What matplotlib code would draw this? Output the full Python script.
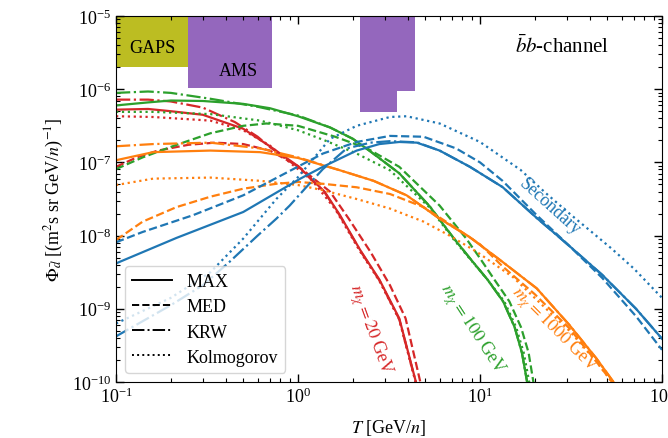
import matplotlib
matplotlib.use("Agg")
import matplotlib.pyplot as plt

plt.rcParams['font.family'] = ['Liberation Serif', 'DejaVu Serif']
plt.rcParams['mathtext.fontset'] = 'stix'

# ---- colours ----
c_red, c_green, c_orange, c_blue = '#d62728', '#2ca02c', '#ff7f0e', '#1f77b4'

# ---- experiment sensitivity regions ----
gaps_T = [0.1, 0.249]
gaps_low = 2.0e-6
ams_low_T = [0.249, 0.72]
ams_low_flux = 1.05e-6
ams_high_T = [2.19, 3.50, 4.40]
ams_high_flux = [4.9e-7, 9.5e-7, 9.5e-7]
flux_top = 1e-5

# ---- m_chi = 20 GeV ----
red_max_T = [0.1, 0.15, 0.2, 0.3, 0.5, 0.7, 1.0, 1.4, 1.7, 2.2, 2.8, 3.6, 4.5]
red_max = [5.25e-7, 5.37e-7, 5.0e-7, 4.47e-7, 2.88e-7, 1.66e-7, 8.9e-8, 3.98e-8, 1.9e-8, 6.3e-9, 2.5e-9, 7.4e-10, 8.9e-11]
red_med_T = [0.1, 0.13, 0.17, 0.25, 0.35, 0.5, 0.7, 1.0, 1.5, 1.9, 2.5, 3.2, 3.9, 4.75]
red_med = [8.7e-8, 1.17e-7, 1.45e-7, 1.74e-7, 1.86e-7, 1.78e-7, 1.45e-7, 8.9e-8, 3.98e-8, 1.7e-8, 6.0e-9, 2.1e-9, 7.4e-10, 8.9e-11]
red_krw_T = [0.1, 0.15, 0.2, 0.3, 0.45, 0.6, 0.7, 1.0, 1.4, 1.7, 2.2, 2.8, 3.6, 4.5]
red_krw = [7.2e-7, 7.2e-7, 6.8e-7, 5.6e-7, 3.55e-7, 2.24e-7, 1.62e-7, 8.7e-8, 3.9e-8, 1.86e-8, 6.2e-9, 2.45e-9, 7.2e-10, 8.7e-11]
red_kol_T = [0.1, 0.16, 0.33, 0.5, 0.7, 0.9, 1.2, 1.6, 2.2, 2.8, 3.6, 4.5]
red_kol = [4.27e-7, 4.17e-7, 3.72e-7, 2.75e-7, 1.7e-7, 1.0e-7, 5.6e-8, 2.3e-8, 6.0e-9, 2.4e-9, 7.1e-10, 8.5e-11]

# ---- m_chi = 100 GeV ----
green_max_T = [0.1, 0.15, 0.2, 0.3, 0.5, 0.7, 1.0, 1.5, 2.0, 2.5, 3.6, 5.3, 7.1, 8.8, 11, 13.4, 15.5, 17, 18.3]
green_max = [6.0e-7, 6.6e-7, 7.0e-7, 6.9e-7, 6.3e-7, 5.5e-7, 4.27e-7, 3.0e-7, 2.1e-7, 1.41e-7, 7.1e-8, 2.5e-8, 9.5e-9, 4.9e-9, 2.5e-9, 1.26e-9, 5.6e-10, 2.5e-10, 8.9e-11]
green_med_T = [0.1, 0.14, 0.21, 0.33, 0.5, 0.67, 1.0, 1.6, 2.4, 3.6, 6.0, 8.4, 10, 12, 14.5, 16.8, 18.5, 19.8]
green_med = [8.1e-8, 1.17e-7, 1.7e-7, 2.5e-7, 3.16e-7, 3.4e-7, 3.16e-7, 2.24e-7, 1.55e-7, 8.7e-8, 2.57e-8, 9.1e-9, 4.9e-9, 2.5e-9, 1.26e-9, 5.6e-10, 2.5e-10, 8.9e-11]
green_krw_T = [0.1, 0.15, 0.2, 0.33, 0.6, 1.0, 1.5, 2.0, 2.5, 3.6, 5.3, 7.1, 8.8, 11, 13.4, 15.5, 17, 18.3]
green_krw = [8.9e-7, 9.3e-7, 8.9e-7, 7.4e-7, 5.75e-7, 4.37e-7, 3.0e-7, 2.1e-7, 1.41e-7, 7.1e-8, 2.5e-8, 9.5e-9, 4.9e-9, 2.5e-9, 1.26e-9, 5.6e-10, 2.5e-10, 8.9e-11]
green_kol_T = [0.1, 0.16, 0.33, 0.62, 1.0, 1.4, 2.1, 3.2, 5.3, 7.1, 8.8, 11, 13.6, 15.8, 17.4, 18.8]
green_kol = [4.9e-7, 4.9e-7, 4.57e-7, 3.72e-7, 2.75e-7, 2.0e-7, 1.32e-7, 7.8e-8, 2.4e-8, 9.1e-9, 4.8e-9, 2.5e-9, 1.26e-9, 5.6e-10, 2.5e-10, 8.9e-11]

# ---- m_chi = 1000 GeV ----
orange_max_T = [0.1, 0.16, 0.33, 0.62, 1.0, 1.7, 2.6, 3.95, 6.0, 8.8, 13.3, 20.5, 31, 43.6, 56]
orange_max = [1.07e-7, 1.38e-7, 1.45e-7, 1.38e-7, 1.15e-7, 7.8e-8, 5.6e-8, 3.55e-8, 1.7e-8, 9.5e-9, 4.37e-9, 1.9e-9, 6.0e-10, 2.1e-10, 8.9e-11]
orange_med_T = [0.1, 0.14, 0.215, 0.33, 0.5, 0.76, 1.0, 1.37, 2.1, 3.2, 4.9, 7.4, 10, 13.3, 20, 31, 43.6, 55]
orange_med = [8.7e-9, 1.55e-8, 2.45e-8, 3.4e-8, 4.37e-8, 5.1e-8, 5.4e-8, 5.1e-8, 4.57e-8, 3.7e-8, 2.45e-8, 1.26e-8, 7.6e-9, 3.8e-9, 1.58e-9, 5.4e-10, 1.9e-10, 8.9e-11]
orange_krw_T = [0.1, 0.16, 0.33, 0.62, 1.0, 1.7, 2.6, 3.95, 6.0, 8.8, 13.3, 20.5, 31, 43.6, 56]
orange_krw = [1.66e-7, 1.78e-7, 1.86e-7, 1.55e-7, 1.17e-7, 7.8e-8, 5.6e-8, 3.55e-8, 1.7e-8, 9.5e-9, 4.37e-9, 1.9e-9, 6.0e-10, 2.1e-10, 8.9e-11]
orange_kol_T = [0.1, 0.16, 0.33, 0.62, 1.0, 1.37, 2.1, 3.2, 4.9, 6.8, 9.6, 15.2, 22, 31, 43.6, 55]
orange_kol = [4.9e-8, 6.0e-8, 6.2e-8, 5.6e-8, 4.9e-8, 4.17e-8, 3.16e-8, 2.34e-8, 1.55e-8, 1.0e-8, 6.0e-9, 2.7e-9, 1.12e-9, 5.0e-10, 1.9e-10, 8.9e-11]

# ---- secondary ----
blue_max_T = [0.1, 0.215, 0.5, 1.03, 1.37, 2.1, 2.8, 3.6, 4.5, 6.0, 8.8, 13.3, 20.5, 26, 31, 47, 72, 100]
blue_max = [4.17e-9, 9.3e-9, 2.1e-8, 6.0e-8, 8.7e-8, 1.45e-7, 1.78e-7, 1.9e-7, 1.86e-7, 1.45e-7, 8.7e-8, 4.6e-8, 1.74e-8, 1.05e-8, 7.2e-9, 2.9e-9, 1.0e-9, 3.9e-10]
blue_med_T = [0.1, 0.14, 0.265, 0.5, 1.03, 1.37, 2.1, 3.2, 4.9, 7.4, 10, 13.3, 20.5, 31, 47, 72, 100]
blue_med = [8.1e-9, 1.12e-8, 1.9e-8, 3.55e-8, 9.1e-8, 1.32e-7, 1.9e-7, 2.3e-7, 2.24e-7, 1.55e-7, 1.0e-7, 5.6e-8, 1.9e-8, 7.2e-9, 2.63e-9, 7.9e-10, 2.75e-10]
blue_krw_T = [0.1, 0.2, 0.3, 0.42, 0.6, 0.76, 0.9, 1.1, 1.37, 1.85, 2.5, 3.2, 4.5, 6.0, 8.8, 13.3, 20.5, 26, 31, 47, 72, 100]
blue_krw = [4.2e-10, 1.12e-9, 2.1e-9, 4.37e-9, 1.0e-8, 1.7e-8, 2.57e-8, 4.47e-8, 8.1e-8, 1.55e-7, 1.86e-7, 1.95e-7, 1.88e-7, 1.45e-7, 8.7e-8, 4.6e-8, 1.74e-8, 1.05e-8, 7.2e-9, 2.9e-9, 1.0e-9, 3.9e-10]
blue_kol_T = [0.1, 0.2, 0.33, 0.5, 0.76, 1.0, 1.5, 2.1, 3.2, 3.95, 6.0, 10, 16.7, 23, 31, 42, 53, 70, 100]
blue_kol = [6.3e-10, 1.41e-9, 3.16e-9, 9.1e-9, 3.16e-8, 6.3e-8, 2.1e-7, 3.16e-7, 4.17e-7, 4.27e-7, 3.4e-7, 1.9e-7, 7.9e-8, 3.8e-8, 2.0e-8, 1.07e-8, 6.6e-9, 3.55e-9, 1.41e-9]

legend_labels = ['MAX', 'MED', 'KRW', 'Kolmogorov']
styles = ['-', '--', '-.', ':']

fig = plt.figure(figsize=(6.68, 4.39), dpi=100)
ax = fig.add_axes([0.1737, 0.1276, 0.8173, 0.8337])

# regions
ax.fill_between(gaps_T, [gaps_low] * 2, [flux_top] * 2, color='#bcbd22', lw=0, zorder=1)
ax.fill_between(ams_low_T, [ams_low_flux] * 2, [flux_top] * 2, color='#9467bd', lw=0, zorder=1)
ax.fill_between(ams_high_T, ams_high_flux, [flux_top] * 3, step='post', color='#9467bd', lw=0, zorder=1)

lw = 1.6
groups = [
    (c_red, [(red_max_T, red_max), (red_med_T, red_med), (red_krw_T, red_krw), (red_kol_T, red_kol)]),
    (c_green, [(green_max_T, green_max), (green_med_T, green_med), (green_krw_T, green_krw), (green_kol_T, green_kol)]),
    (c_orange, [(orange_max_T, orange_max), (orange_med_T, orange_med), (orange_krw_T, orange_krw), (orange_kol_T, orange_kol)]),
    (c_blue, [(blue_max_T, blue_max), (blue_med_T, blue_med), (blue_krw_T, blue_krw), (blue_kol_T, blue_kol)]),
]
for col, curves in groups:
    for (tx, fy), ls in zip(curves, styles):
        ax.plot(tx, fy, color=col, ls=ls, lw=lw, zorder=2)

ax.set_xscale('log')
ax.set_yscale('log')
ax.set_xlim(0.1, 100)
ax.set_ylim(1e-10, 1e-5)

ax.tick_params(which='both', direction='in', top=True, right=True, labelsize=13)
ax.tick_params(which='major', length=6, width=1)
ax.tick_params(which='minor', length=3, width=0.8)

ax.set_xlabel(r'$T$ [GeV/$n$]', fontsize=13, labelpad=8)
ax.set_ylabel(r'$\Phi_{\bar{d}}$ [(m$^2$s sr GeV/$n$)$^{-1}$]', fontsize=13)

# text labels
ax.text(0.066, 0.915, 'GAPS', transform=ax.transAxes, ha='center', va='center', fontsize=13)
ax.text(0.225, 0.85, 'AMS', transform=ax.transAxes, ha='center', va='center', fontsize=13)
ax.text(0.817, 0.918, r'$\bar{b}b$-channel', transform=ax.transAxes, ha='center', va='center', fontsize=15)
ax.text(0.795, 0.48, 'Secondary', transform=ax.transAxes, ha='center', va='center', fontsize=13,
        rotation=-42, color=c_blue)
ax.text(0.465, 0.145, r'$m_\chi = 20$ GeV', transform=ax.transAxes, ha='center', va='center', fontsize=13,
        rotation=-70, color=c_red)
ax.text(0.652, 0.145, r'$m_\chi = 100$ GeV', transform=ax.transAxes, ha='center', va='center', fontsize=13,
        rotation=-57, color=c_green)
ax.text(0.802, 0.145, r'$m_\chi = 1000$ GeV', transform=ax.transAxes, ha='center', va='center', fontsize=13,
        rotation=-45, color=c_orange)

handles = [plt.Line2D([], [], color='black', ls=ls, lw=1.4) for ls in styles]
ax.legend(handles, legend_labels, loc='lower left', fontsize=13, handlelength=2.2, labelspacing=0.45)

fig.savefig('out.png', dpi=100)
